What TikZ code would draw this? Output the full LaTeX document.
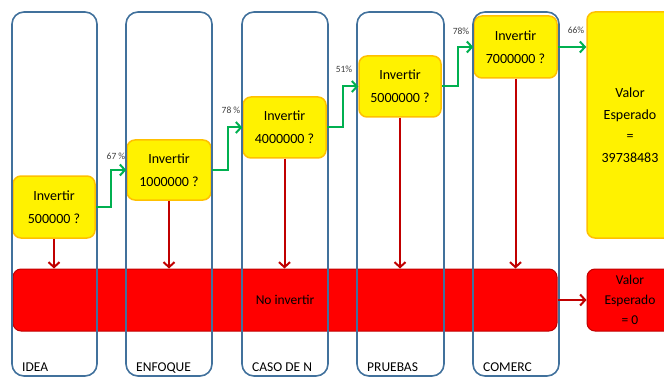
\documentclass[tikz,border=0pt]{standalone}
\usepackage{fontspec}
\setmainfont{Carlito}
\usetikzlibrary{arrows.meta}
\definecolor{laneblue}{HTML}{41719C}
\definecolor{yorange}{HTML}{FFC000}
\definecolor{dred}{HTML}{C00000}
\definecolor{ggreen}{HTML}{00B050}
\definecolor{pctgray}{HTML}{404040}
\tikzset{
  lane/.style={draw=laneblue, line width=1.6pt, rounded corners=12pt},
  ybox/.style={draw=yorange, fill=yellow, line width=1.5pt, rounded corners=8pt, align=center, inner sep=0pt, font=\fontsize{14}{23}\selectfont},
  rbox/.style={draw=dred, fill=red, line width=1pt, rounded corners=8pt, align=center, inner sep=0pt, font=\fontsize{13.5}{20}\selectfont},
  garrow/.style={draw=ggreen, line width=2pt, -{Straight Barb[length=5pt,width=11pt,line width=2pt]}},
  rarrow/.style={draw=dred, line width=2pt, -{Straight Barb[length=5pt,width=11pt,line width=2pt]}},
  pct/.style={text=pctgray, font=\fontsize{9.5}{10}\selectfont, inner sep=0pt},
  lanelabel/.style={anchor=base west, inner sep=0pt, font=\fontsize{13.5}{14}\selectfont}
}
\begin{document}
\begin{tikzpicture}[x=1pt,y=-1pt]
\useasboundingbox (0,0) rectangle (664,377);
\clip (0,0) rectangle (664,377);
% boxes
\node[ybox, minimum width=82pt, minimum height=62pt] (b1) at (54,207) {Invertir\\500000 ?};
\node[ybox, minimum width=84pt, minimum height=60pt] (b2) at (169,170) {Invertir\\1000000 ?};
\node[ybox, minimum width=83pt, minimum height=61pt] (b3) at (284.5,127.5) {Invertir\\4000000 ?};
\node[ybox, minimum width=82pt, minimum height=61pt] (b4) at (400,86.5) {Invertir\\5000000 ?};
\node[ybox, minimum width=83pt, minimum height=62pt] (b5) at (515.5,47) {Invertir\\7000000 ?};
\node[ybox, minimum width=86pt, minimum height=226pt, font=\fontsize{14}{21.5}\selectfont] (ve) at (630,125) {Valor\\Esperado\\=\\39738483};
\node[rbox, minimum width=544pt, minimum height=62pt] (bar) at (285,300) {No invertir};
\node[rbox, minimum width=86pt, minimum height=62pt] (v0) at (630,300) {Valor\\Esperado\\= 0};
% lanes
\draw[lane] (12,12) rectangle (97,376);
\draw[lane] (126,12) rectangle (212,376);
\draw[lane] (242,12) rectangle (328,376);
\draw[lane] (357,12) rectangle (444,376);
\draw[lane] (473,12) rectangle (559,376);
\node[lanelabel] (l1) at (22,371) {IDEA};
\node[lanelabel] (l2) at (136,371) {ENFOQUE};
\node[lanelabel] (l3) at (252,371) {CASO DE N};
\node[lanelabel] (l4) at (367,371) {PRUEBAS};
\node[lanelabel] (l5) at (483,371) {COMERC};
% green arrows
\draw[garrow] (b1.east) -- ++(15,0) |- (b2.west);
\draw[garrow] (b2.east) -- ++(16,0) |- (b3.west);
\draw[garrow] (b3.east) -- ++(16,0) |- (b4.west);
\draw[garrow] (b4.east) -- ++(16,0) |- (b5.west);
\draw[garrow] (b5.east) -- (b5.east -| ve.west);
\node[pct] (p1) at (116,156) {67 \%};
\node[pct] (p2) at (231,110) {78 \%};
\node[pct] (p3) at (344,69) {51\%};
\node[pct] (p4) at (461,31) {78\%};
\node[pct] (p5) at (576,30) {66\%};
% red arrows
\draw[rarrow] (b1.south) -- (b1.south |- bar.north);
\draw[rarrow] (b2.south) -- (b2.south |- bar.north);
\draw[rarrow] (b3.south) -- (b3.south |- bar.north);
\draw[rarrow] (b4.south) -- (b4.south |- bar.north);
\draw[rarrow] (b5.south) -- (b5.south |- bar.north);
\draw[rarrow] (bar.east) -- (v0.west);
\end{tikzpicture}
\end{document}
